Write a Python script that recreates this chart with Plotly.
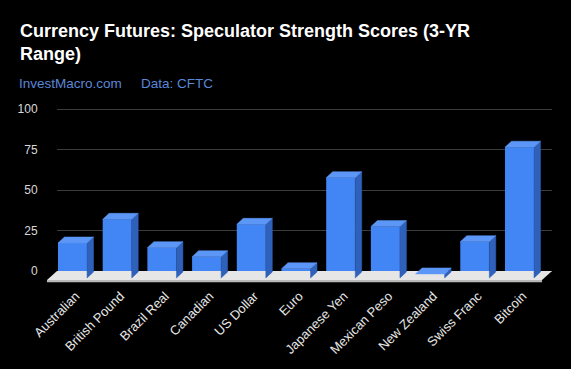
import plotly.graph_objects as go

# ---- data ----
categories = ["Australian", "British Pound", "Brazil Real", "Canadian", "US Dollar",
              "Euro", "Japanese Yen", "Mexican Peso", "New Zealand", "Swiss Franc", "Bitcoin"]
scores = [21.6, 36.2, 18.7, 13.1, 33.1, 5.7, 61.9, 31.7, 2.5, 22.4, 80.7]
y_ticks = [0, 25, 50, 75, 100]

title_text = "Currency Futures: Speculator Strength Scores (3-YR<br>Range)"
source_text = "InvestMacro.com"
data_text = "Data: CFTC"

# ---- styling / geometry (in axis units) ----
W, H = 571, 369
FRONT = "#4285F4"
TOP = "#5c97f7"
SIDE = "#2f60ba"
FLOOR_TOP = "#e6e6e6"
FLOOR_EDGE = "#b8b8b8"

bar_w = 0.65          # front face width (category units)
dx = 0.145            # depth offset to the right
dy = 3.7              # depth offset upwards (value units)
base = -4.3           # front-face baseline

n = len(categories)
xs = list(range(n))

def px_x(p):
    return p / W

def px_y(p):
    return 1 - p / H

# plot areas
top_px, bot_px = 105, 285
y_range = [-8.64, 102.47]
x2_range = [-0.638, n - 1 + 0.727]

fig = go.Figure()

# grid subplot (xy) - carries y ticks + gridlines, drawn first
fig.add_trace(go.Scatter(x=[0], y=[0], mode="markers", marker=dict(opacity=0),
                         hoverinfo="skip", showlegend=False, xaxis="x", yaxis="y"))

# floor
fl, fr = -0.347, n - 1 + 0.727
fs = 0.224
f_front_top, f_front_bot = -5.56, -7.0
fig.add_trace(go.Scatter(
    x=[fl - fs, fr - fs, fr - fs, fl - fs, fl - fs],
    y=[f_front_top, f_front_top, f_front_bot, f_front_bot, f_front_top],
    fill="toself", fillcolor=FLOOR_EDGE, mode="lines", line=dict(width=0),
    hoverinfo="skip", showlegend=False, xaxis="x2", yaxis="y2"))
fig.add_trace(go.Scatter(
    x=[fl, fr, fr - fs, fl - fs, fl],
    y=[0, 0, f_front_top, f_front_top, 0],
    fill="toself", fillcolor=FLOOR_TOP, mode="lines", line=dict(width=0),
    hoverinfo="skip", showlegend=False, xaxis="x2", yaxis="y2"))

# side and top faces derived from the values
for xi, v in zip(xs, scores):
    t = base + v
    r = xi + bar_w / 2
    l = xi - bar_w / 2
    fig.add_trace(go.Scatter(
        x=[r, r + dx, r + dx, r, r],
        y=[base, base + dy, t + dy, t, base],
        fill="toself", fillcolor=SIDE, mode="lines", line=dict(width=0.5, color=SIDE),
        hoverinfo="skip", showlegend=False, xaxis="x2", yaxis="y2"))
    fig.add_trace(go.Scatter(
        x=[l, r, r + dx, l + dx, l],
        y=[t, t, t + dy, t + dy, t],
        fill="toself", fillcolor=TOP, mode="lines", line=dict(width=0.5, color=TOP),
        hoverinfo="skip", showlegend=False, xaxis="x2", yaxis="y2"))

# front faces
fig.add_trace(go.Bar(
    x=xs, y=scores, base=base, width=bar_w,
    marker=dict(color=FRONT, line=dict(width=0)),
    showlegend=False, xaxis="x2", yaxis="y2"))

fig.update_layout(
    width=W, height=H,
    paper_bgcolor="#000000", plot_bgcolor="rgba(0,0,0,0)",
    margin=dict(l=0, r=0, t=0, b=0),
    font=dict(family="Liberation Sans, Arial, sans-serif", color="#dddddd", size=12),
    barmode="overlay",
    xaxis=dict(domain=[px_x(57), px_x(552)], range=[0, 1], visible=False,
               anchor="y", automargin=False, fixedrange=True),
    yaxis=dict(domain=[px_y(bot_px), px_y(top_px)], range=y_range, anchor="x",
               tickvals=y_ticks, ticktext=[str(t) for t in y_ticks],
               showgrid=True, gridcolor="#3c3c3c", gridwidth=1, zeroline=False,
               showline=False, ticks="outside", ticklen=16, tickcolor="rgba(0,0,0,0)",
               tickfont=dict(size=12, color="#d8d8d8"), automargin=False),
    xaxis2=dict(domain=[px_x(44), px_x(552)], range=x2_range, anchor="y2",
                tickvals=[x + dx / 2 for x in xs], ticktext=categories, tickangle=-45,
                showgrid=False, zeroline=False, showline=False,
                tickfont=dict(size=13, color="#e6e6e6"), automargin=False),
    yaxis2=dict(domain=[px_y(bot_px), px_y(top_px)], range=y_range, anchor="x2",
                visible=False, showgrid=False, zeroline=False),
    annotations=[
        dict(text="<b>" + title_text + "</b>", xref="paper", yref="paper",
             x=px_x(18), y=px_y(19), xanchor="left", yanchor="top", align="left",
             showarrow=False, font=dict(size=18, color="#ffffff")),
        dict(text=source_text, xref="paper", yref="paper",
             x=px_x(17), y=px_y(74), xanchor="left", yanchor="top",
             showarrow=False, font=dict(size=13.5, color="#5b87d8")),
        dict(text=data_text, xref="paper", yref="paper",
             x=px_x(139), y=px_y(74), xanchor="left", yanchor="top",
             showarrow=False, font=dict(size=13.5, color="#5b87d8")),
    ],
)

fig.write_html(
    "out.html",
    config={"displayModeBar": False, "staticPlot": True},
    post_script="document.body.style.margin='0';document.body.style.background='#000';",
)
